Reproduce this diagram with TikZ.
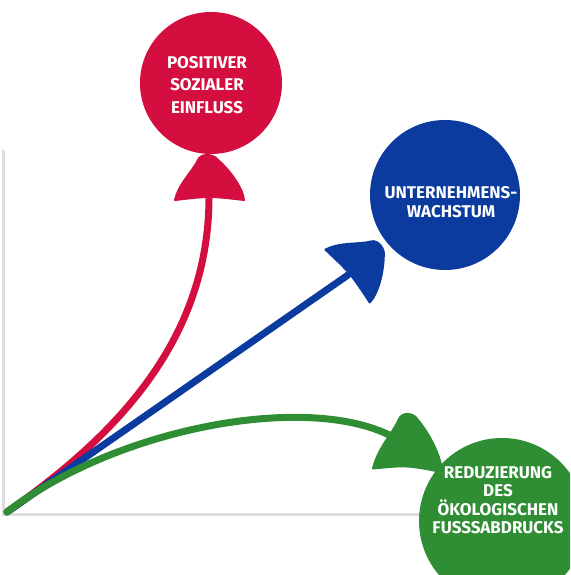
\documentclass[tikz,border=0pt]{standalone}
\usepackage{fontspec}
\setmainfont{Fira Sans}
\usetikzlibrary{positioning}

\definecolor{socialred}{HTML}{D40E3E}
\definecolor{growthblue}{HTML}{0B3B9F}
\definecolor{ecogreen}{HTML}{2F8E33}
\definecolor{axisgrey}{HTML}{DDDDDD}

\tikzset{
  balloon/.style={circle, inner sep=0pt, draw=none},
  balloontext/.style={text=white, align=center, font=\bfseries\fontsize{17}{20}\selectfont},
  string/.style={line width=7pt, line cap=round},
  knot/.pic={
    \filldraw[line width=2pt, line join=round]
      (-34,-1) .. controls (0,3) .. (35,-1)
      .. controls (34,10) and (22,28) .. (8,40)
      .. controls (4,45) and (-8,46) .. (-11,39)
      .. controls (-16,28) and (-30,16) .. (-34,-1) -- cycle;
  }
}

\begin{document}
\begin{tikzpicture}[x=1pt, y=1pt]
    \clip (0,0) rectangle (570,575);
    \useasboundingbox (0,0) rectangle (570,575);

    % Axes
    \draw[axisgrey, line width=3pt] (3,425) -- (3,60) -- (420,60);

    % Start point and knot positions
    \coordinate (origin) at (7,63);
    \coordinate (social-knot) at (209,376);
    \coordinate (growth-knot) at (348,300);
    \coordinate (eco-knot) at (400,134);

    % Strings
    \draw[string, socialred] (origin) .. controls (110,135) and (208,230) .. (social-knot);
    \draw[string, growthblue] (origin) -- (growth-knot);
    \draw[string, ecogreen] (origin) .. controls (120,150) and (320,185) .. (eco-knot);

    % Knots
    \pic[socialred] at (social-knot) {knot};
    \pic[growthblue, rotate=-50] at (growth-knot) {knot};
    \pic[ecogreen, rotate=-3, yscale=1.25] at (407,106) {knot};

    % Balloons
    \node[balloon, fill=socialred, minimum size=142pt] (social) at (211,492) {};
    \node[balloon, fill=growthblue, minimum size=150pt] (growth) at (445,380) {};
    \node[balloon, fill=ecogreen, minimum size=166pt] (eco) at (502,54) {};

    % Labels
    \node[balloontext, font=\bfseries\fontsize{17}{22.5}\selectfont] (social-text) at ([xshift=-4pt, yshift=-2pt]social.center) {POSITIVER\\SOZIALER\\EINFLUSS};
    \node[balloontext, font=\bfseries\fontsize{17}{19}\selectfont] (growth-text) at ([xshift=6pt, yshift=-7pt]growth.center) {UNTERNEHMENS-\\WACHSTUM};
    \node[balloontext, font=\bfseries\fontsize{17}{18.5}\selectfont] (eco-text) at ([xshift=-4pt, yshift=21pt]eco.center) {REDUZIERUNG\\DES\\ÖKOLOGISCHEN\\FUSSSABDRUCKS};
\end{tikzpicture}
\end{document}
